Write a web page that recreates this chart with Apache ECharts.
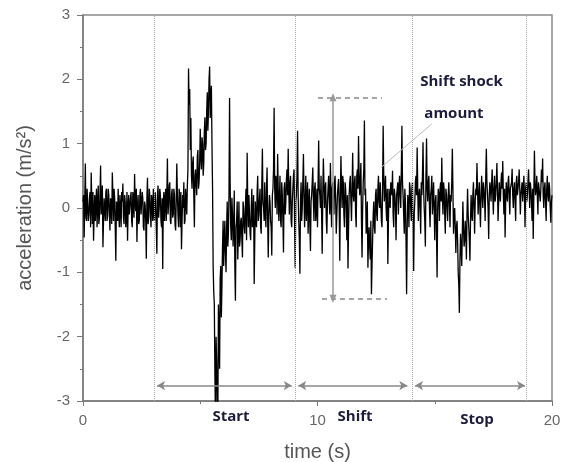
<!DOCTYPE html>
<html>
<head>
<meta charset="utf-8">
<script src="https://cdn.jsdelivr.net/npm/echarts@6/dist/echarts.min.js"></script>
<style>
html,body{margin:0;padding:0;background:#fff;}
#chart{width:569px;height:462px;}
</style>
</head>
<body>
<div id="chart"></div>
<script>
// sampling step of the recorded signal (s); each second has readings at the
// full steps (accelSecN) and at the half steps in between (accelHalfN)
const sampleStep = 0.05;

// acceleration (m/s^2) at full steps
const accelSec0  = [0.1,-0.46,0.69,-0.2,0.3,-0.1,0.25,0.55,-0.25,-0.51,0.2,0.05,-0.3,0.35,-0.15,0.66,0.1,-0.61,0.15,-0.2];
const accelSec1  = [0.3,-0.1,0.2,-0.35,0.1,0.55,-0.2,0.15,-0.82,0.05,0.3,-0.3,0.0,0.25,0.38,-0.25,0.1,-0.15,-0.51,0.2];
const accelSec2  = [-0.1,0.25,-0.3,0.1,0.53,-0.05,-0.53,0.2,-0.2,0.3,-0.1,0.15,-0.35,0.05,-0.79,0.47,-0.15,0.2,-0.3,0.1];
const accelSec3  = [0.3,-0.2,0.1,-0.71,0.35,0.0,0.2,-0.3,-0.95,0.25,0.1,-0.2,0.77,0.05,0.4,-0.25,0.3,-0.1,0.2,-0.35];
const accelSec4  = [0.69,-0.1,0.3,-0.3,-0.64,0.2,0.4,-0.2,0.1,0.35,2.17,1.85,1.4,0.3,0.8,-0.3,0.6,0.2,0.9,0.4];
const accelSec5  = [1.23,0.6,1.0,0.7,1.41,1.0,1.8,1.5,2.2,1.7,1.0,-0.9,-1.5,-3.3,-2.4,-3.3,-2.0,-1.1,-1.7,-0.6];
const accelSec6  = [-0.9,-0.2,-1.0,0.1,-0.4,1.71,-0.3,0.16,-0.6,0.27,-1.44,-0.2,-0.8,0.1,-0.5,-0.15,-0.77,0.0,-0.4,0.3];
const accelSec7  = [0.86,-0.3,0.2,-0.5,0.3,-0.2,-1.18,0.1,-0.3,0.5,-0.1,0.3,-0.4,0.92,0.0,0.4,-0.3,0.63,-0.77,0.2];
const accelSec8  = [-0.2,-0.74,0.3,1.56,0.0,0.4,0.84,-0.2,0.5,-0.3,0.2,-0.69,0.4,0.1,0.6,0.92,-0.1,0.5,-0.3,0.3];
const accelSec9  = [0.6,-0.93,0.2,1.2,-0.2,-1.02,0.4,0.0,0.84,-0.3,0.5,0.1,-0.4,0.3,-0.67,0.2,0.63,-0.2,0.4,0.0];
const accelSec10 = [-0.3,1.05,0.2,0.5,-0.71,0.77,0.0,0.4,-0.4,0.3,0.1,0.7,-0.3,0.4,-0.1,0.5,-0.4,0.2,0.45,-0.82];
const accelSec11 = [0.81,0.0,0.4,-0.3,0.3,-0.5,-0.94,0.2,0.5,-0.2,0.86,0.1,0.5,-0.3,0.6,1.12,0.2,0.7,-0.77,0.4];
const accelSec12 = [1.36,0.3,-0.2,-0.93,-0.3,-0.8,-1.34,-0.5,0.1,-0.4,0.3,-0.2,0.5,0.0,0.4,-0.3,1.28,0.1,0.5,-0.2];
const accelSec13 = [-0.87,0.3,0.0,0.4,0.58,-0.3,0.2,-0.5,0.3,-0.1,0.5,0.0,1.28,0.2,-0.4,0.1,-1.34,0.2,-0.3,0.3];
const accelSec14 = [-0.2,0.4,-0.98,0.1,0.5,0.94,-0.2,0.3,-0.4,0.2,1.02,0.0,-0.6,1.08,0.1,0.5,-0.3,0.3,-0.1,0.4];
const accelSec15 = [-0.5,0.2,-1.08,0.3,-0.2,0.4,0.78,-0.1,0.3,-0.4,0.2,-0.2,0.4,-0.3,0.1,0.92,-0.4,0.0,-0.7,-0.2];
const accelSec16 = [-1.0,-1.63,-0.4,-0.9,0.1,-0.6,-0.2,-0.8,0.3,-0.3,-0.82,0.2,-0.2,0.4,-0.4,0.3,0.7,-0.1,0.4,-0.3];
const accelSec17 = [0.5,0.0,0.3,-0.2,0.92,0.2,-0.48,0.4,0.1,0.6,-0.1,0.5,0.2,0.7,-0.2,0.4,0.1,0.55,0.73,-0.1];
const accelSec18 = [-0.46,0.4,0.1,0.5,-0.1,0.3,0.61,0.0,0.4,-0.2,0.5,0.2,0.6,-0.1,0.3,0.1,0.5,-0.3,0.4,0.2];
const accelSec19 = [0.6,0.0,0.3,-0.2,-0.48,0.89,0.2,0.5,-0.1,0.4,0.1,0.6,0.77,0.0,0.4,-0.2,0.5,0.1,0.3,-0.23,0.2];

const accelHalf0  = [0.2,0.1,-0.15,0.3,-0.2,0.15,-0.3,0.1,0.25,-0.1,-0.2,0.3,0.05,-0.25,0.2,-0.1,0.35,-0.2,0.0,0.25];
const accelHalf1  = [-0.2,0.3,-0.1,0.15,-0.25,0.2,0.3,-0.3,0.1,-0.2,-0.1,0.2,-0.3,0.1,-0.15,0.2,-0.3,0.25,0.0,-0.1];
const accelHalf2  = [0.15,-0.2,0.25,-0.15,0.1,0.3,0.0,-0.25,0.2,-0.1,0.25,-0.3,0.1,-0.2,0.15,-0.25,0.3,-0.1,0.2,-0.2];
const accelHalf3  = [-0.1,0.25,-0.3,0.2,-0.15,0.3,-0.2,0.15,0.1,-0.2,0.3,0.2,-0.1,0.35,-0.2,0.2,-0.15,0.3,-0.25,0.1];
const accelHalf4  = [0.2,-0.3,0.15,0.25,-0.2,0.0,-0.25,0.3,-0.1,0.6,1.6,0.9,0.5,0.7,0.2,0.5,0.35,0.8,0.3,0.7];
const accelHalf5  = [0.8,1.1,0.5,1.2,0.9,1.5,1.2,2.0,1.4,1.9,0.3,-1.3,-2.6,-2.0,-3.1,-1.5,-2.5,-0.9,-1.2,-0.2];
const accelHalf6  = [-0.5,-0.7,-0.3,-0.6,0.2,0.4,-0.5,-0.1,-0.3,-0.9,-0.3,0.1,-0.4,-0.6,-0.2,-0.5,0.1,-0.3,0.0,-0.5];
const accelHalf7  = [0.1,0.2,-0.4,0.0,-0.3,0.2,-0.5,-0.2,0.25,-0.2,0.15,-0.3,0.35,0.1,-0.2,-0.1,0.3,-0.2,-0.1,0.1];
const accelHalf8  = [-0.3,0.2,0.6,0.3,0.5,-0.1,0.3,0.1,-0.2,0.4,-0.2,0.3,-0.1,0.45,0.2,0.3,0.4,-0.2,0.1,0.5];
const accelHalf9  = [-0.3,0.1,0.5,0.2,-0.5,0.1,-0.2,0.4,0.2,0.1,-0.2,0.4,0.0,-0.3,0.1,0.4,0.1,0.3,-0.2,0.3];
const accelHalf10 = [0.4,0.3,0.0,-0.1,0.2,0.4,0.3,-0.2,0.1,0.5,-0.1,0.2,0.3,0.0,0.4,0.1,-0.1,0.35,0.0,0.2];
const accelHalf11 = [0.3,0.5,-0.1,0.4,0.0,0.2,-0.3,0.4,0.1,0.3,0.2,0.4,-0.1,0.5,0.3,0.5,0.4,-0.2,0.0,0.6];
const accelHalf12 = [0.2,-0.4,0.1,-0.5,-0.6,-0.2,-0.9,-0.1,-0.3,0.2,-0.1,0.3,0.1,0.4,-0.2,0.3,0.5,0.3,0.0,0.3];
const accelHalf13 = [-0.2,0.1,0.4,0.2,-0.1,0.3,0.0,0.2,0.4,0.3,0.2,0.6,0.4,-0.1,0.3,-0.5,-0.3,0.1,0.4,0.0];
const accelHalf14 = [0.3,-0.3,-0.1,0.4,0.2,0.3,0.2,0.0,0.4,0.5,0.3,-0.2,0.5,0.3,0.4,0.0,0.2,0.5,0.1,0.0];
const accelHalf15 = [0.1,-0.4,0.0,0.2,0.3,0.1,0.2,0.4,-0.1,0.3,0.0,0.2,0.1,0.2,0.4,0.3,-0.1,-0.3,-0.3,-0.5];
const accelHalf16 = [-1.2,-0.8,-0.6,-0.4,-0.3,-0.5,-0.4,-0.1,-0.1,-0.5,-0.2,-0.1,0.2,0.0,0.1,0.2,0.3,0.2,0.0,0.2];
const accelHalf17 = [0.2,0.4,0.1,0.5,0.4,0.0,0.2,0.3,0.4,0.2,0.3,0.1,0.4,0.3,0.1,0.2,0.4,0.3,0.2,0.3];
const accelHalf18 = [0.1,0.2,0.4,0.2,0.3,0.4,0.2,0.3,0.1,0.4,0.2,0.4,0.3,0.2,0.4,0.3,0.2,0.3,0.1,0.4];
const accelHalf19 = [0.3,0.4,0.1,0.3,0.2,0.4,0.3,0.2,0.4,0.2,0.3,0.4,0.2,0.3,0.1,0.3,0.2,0.4,0.0,0.1];

const accelBySecond = [accelSec0,accelSec1,accelSec2,accelSec3,accelSec4,accelSec5,accelSec6,accelSec7,accelSec8,accelSec9,
  accelSec10,accelSec11,accelSec12,accelSec13,accelSec14,accelSec15,accelSec16,accelSec17,accelSec18,accelSec19];
const accelHalfBySecond = [accelHalf0,accelHalf1,accelHalf2,accelHalf3,accelHalf4,accelHalf5,accelHalf6,accelHalf7,accelHalf8,accelHalf9,
  accelHalf10,accelHalf11,accelHalf12,accelHalf13,accelHalf14,accelHalf15,accelHalf16,accelHalf17,accelHalf18,accelHalf19];

// phase boundaries (s) and annotation values
const phaseBoundaries = [3.03, 9.04, 14.06, 18.92];
const phaseArrowEnds = [[3.16, 8.90], [9.18, 13.83], [14.16, 18.85]];
const phaseArrowLevel = -2.76;
const phaseNames = ['Start', 'Shift', 'Stop'];
const phaseLabelTimes = [6.31, 11.6, 16.8];
const shockTop = 1.72, shockBottom = -1.41;
const shockTopSpan = [10.02, 12.75];
const shockBottomSpan = [10.19, 12.96];
const shockArrowTime = 10.66;
const leaderFrom = [14.88, 1.31], leaderTo = [12.71, 0.63];

const xTicks = [0, 10, 20];
const yTicks = [-3, -2, -1, 0, 1, 2, 3];

const seriesData = [];
accelBySecond.forEach((arr, s) => {
  arr.forEach((v, j) => {
    const t = s + j * sampleStep;
    seriesData.push([+t.toFixed(3), v]);
    const half = accelHalfBySecond[s][j];
    if (half !== undefined) seriesData.push([+(t + sampleStep / 2).toFixed(3), half]);
  });
});

const chart = echarts.init(document.getElementById('chart'), null, {renderer: 'canvas'});
const axisGray = '#7a7a7a';
const labelGray = '#555';
const annFont = '"Open Sans", "Noto Sans", sans-serif';

const boundaryLines = phaseBoundaries.map(t => ({xAxis: t, symbol: 'none',
  lineStyle: {type: 'dotted', color: '#a8a8a8', width: 1}}));

function seg(a, b, style, s0, s1) {
  return [{coord: a, lineStyle: style, symbol: s0}, {coord: b, symbol: s1}];
}
const arrowStyle = {type: 'solid', color: '#888', width: 1.5};
const dashStyle = {type: [5, 4], color: '#888', width: 1.5};
const shockStyle = {type: 'solid', color: '#999', width: 1.5};
const leaderStyle = {type: 'solid', color: '#bbb', width: 1};

const annotationLines = boundaryLines.concat(
  phaseArrowEnds.map(e => seg([e[0], phaseArrowLevel], [e[1], phaseArrowLevel], arrowStyle, 'arrow', 'arrow')),
  [
    seg([shockTopSpan[0], shockTop], [shockTopSpan[1], shockTop], dashStyle, 'none', 'none'),
    seg([shockBottomSpan[0], shockBottom], [shockBottomSpan[1], shockBottom], dashStyle, 'none', 'none'),
    seg([shockArrowTime, shockTop], [shockArrowTime, shockBottom], shockStyle, 'triangle', 'triangle'),
    seg(leaderFrom, leaderTo, leaderStyle, 'none', 'none')
  ]
);

const option = {
  animation: false,
  backgroundColor: '#fff',
  grid: {left: 83, right: 17, top: 15, bottom: 61, show: true, borderColor: '#8a8a8a', borderWidth: 1.5,
    containLabel: false, outerBoundsMode: 'none'},
  xAxis: {
    type: 'value', min: 0, max: 20, interval: 10,
    name: 'time (s)', nameLocation: 'middle', nameGap: 41,
    nameTextStyle: {fontFamily: 'Liberation Sans, Arial', fontSize: 20, color: labelGray},
    axisLine: {show: true, onZero: false, lineStyle: {color: axisGray, width: 1.5}},
    axisTick: {show: true, length: 5, lineStyle: {color: axisGray, width: 1}},
    minorTick: {show: true, splitNumber: 2, length: 3, lineStyle: {color: axisGray}},
    splitLine: {show: false},
    axisLabel: {fontFamily: 'Liberation Sans, Arial', fontSize: 15, color: '#666', margin: 12,
      formatter: v => xTicks.includes(v) ? String(v) : ''}
  },
  yAxis: {
    type: 'value', min: -3, max: 3, interval: 1,
    name: 'acceleration (m/s²)', nameLocation: 'middle', nameGap: 48,
    nameTextStyle: {fontFamily: 'Liberation Sans, Arial', fontSize: 20, color: labelGray},
    axisLine: {show: true, onZero: false, lineStyle: {color: axisGray, width: 1.5}},
    axisTick: {show: true, length: 6, lineStyle: {color: axisGray, width: 1}},
    minorTick: {show: true, splitNumber: 2, length: 3, lineStyle: {color: axisGray}},
    splitLine: {show: false},
    axisLabel: {fontFamily: 'Liberation Sans, Arial', fontSize: 15, color: '#666', margin: 13,
      formatter: v => yTicks.includes(v) ? String(v) : ''}
  },
  series: [
    {
      type: 'line', data: [], silent: true, z: 1,
      markLine: {
        silent: true, animation: false, label: {show: false},
        symbol: 'none', symbolSize: [7, 8],
        data: annotationLines
      }
    },
    {
      type: 'line', data: seriesData, showSymbol: false, symbol: 'none', z: 2,
      sampling: null,
      lineStyle: {color: '#000', width: 1.3}, clip: true
    }
  ]
};
chart.setOption(option);

const annText = (text, x, y) => ({type: 'text', x: x, y: y,
  style: {text: text, font: 'bold 15px ' + annFont, fill: '#1c1c3c', textAlign: 'center', textVerticalAlign: 'middle'}});
const yLabelPix = 417;
const graphics = phaseNames.map((name, i) => annText(name,
  chart.convertToPixel({gridIndex: 0}, [phaseLabelTimes[i], 0])[0],
  yLabelPix + (name === 'Stop' ? 3 : 0)));
const shockPos1 = chart.convertToPixel({gridIndex: 0}, [16.14, 1.96]);
const shockPos2 = chart.convertToPixel({gridIndex: 0}, [15.82, 1.47]);
graphics.push(annText('Shift shock', shockPos1[0], shockPos1[1]));
graphics.push(annText('amount', shockPos2[0], shockPos2[1]));
chart.setOption({graphic: graphics});
</script>
</body>
</html>
